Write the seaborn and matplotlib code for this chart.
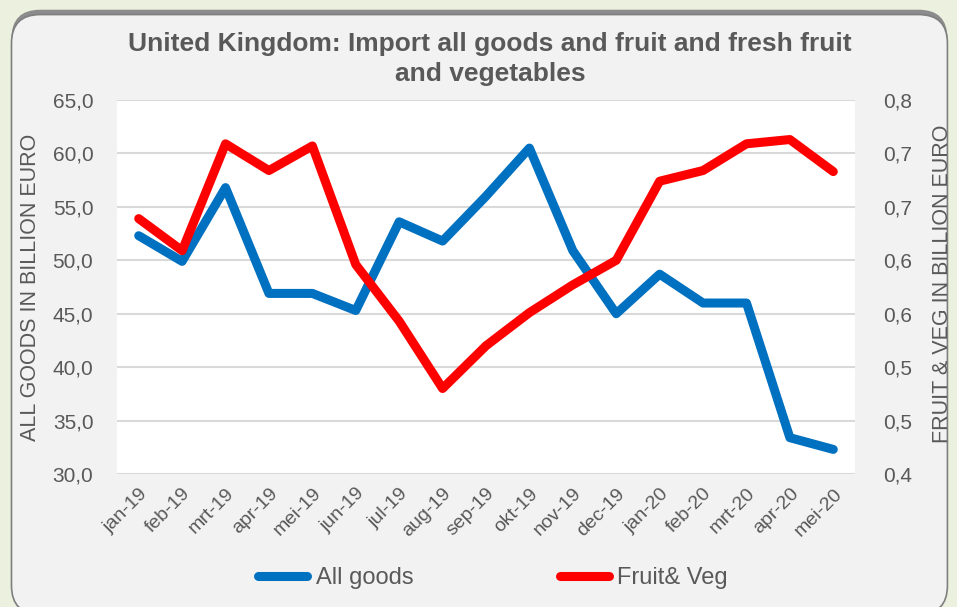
import math
import matplotlib
matplotlib.use("Agg")
import matplotlib.pyplot as plt
import matplotlib.ticker as mticker
from matplotlib.patches import FancyBboxPatch
import seaborn as sns
import pandas as pd
import numpy as np

months = ["jan-19", "feb-19", "mrt-19", "apr-19", "mei-19", "jun-19", "jul-19", "aug-19",
          "sep-19", "okt-19", "nov-19", "dec-19", "jan-20", "feb-20", "mrt-20", "apr-20", "mei-20"]
all_goods = [52.3, 49.9, 56.8, 46.9, 46.9, 45.3, 53.6, 51.8, 56.0, 60.5, 50.9,
             45.0, 48.7, 46.0, 46.0, 33.4, 32.3]
fruit_veg = [0.639, 0.609, 0.709, 0.684, 0.707, 0.596, 0.543, 0.480, 0.520, 0.551,
             0.577, 0.600, 0.674, 0.684, 0.709, 0.713, 0.683]

df = pd.DataFrame({"month": months, "all_goods": all_goods, "fruit_veg": fruit_veg})
df["pos"] = np.arange(len(df))

sns.set_style("white")
plt.rcParams["font.family"] = ["Liberation Sans", "DejaVu Sans"]

grey = "#595959"
blue = "#0070C0"
red = "#FF0000"

fig = plt.figure(figsize=(9.57, 6.07), dpi=100)
fig.patch.set_facecolor("#EBF1DE")

# rounded chart panel with a soft shadow at the top
shadow = FancyBboxPatch((0.012, -0.012), 0.978, 0.996, boxstyle="round,pad=0,rounding_size=0.03",
                        transform=fig.transFigure, facecolor="#8c8c8c", edgecolor="none",
                        mutation_aspect=957 / 607, zorder=-20)
panel = FancyBboxPatch((0.012, -0.012), 0.978, 0.988, boxstyle="round,pad=0,rounding_size=0.03",
                       transform=fig.transFigure, facecolor="#F2F2F2", edgecolor="#7f7f7f",
                       linewidth=1.2, mutation_aspect=957 / 607, zorder=-10)
fig.patches.extend([shadow, panel])

ax = fig.add_axes([117 / 957, 1 - 474 / 607, 738 / 957, 374 / 607])
ax.set_facecolor("white")
ax2 = ax.twinx()
ax2.patch.set_visible(False)

sns.lineplot(data=df, x="pos", y="all_goods", ax=ax, color=blue, linewidth=6.5,
             solid_capstyle="round", solid_joinstyle="round", label="All goods", legend=False)
sns.lineplot(data=df, x="pos", y="fruit_veg", ax=ax2, color=red, linewidth=6.5,
             solid_capstyle="round", solid_joinstyle="round", label="Fruit& Veg", legend=False)

ax.set_xlim(-0.5, len(months) - 0.5)
ax.set_ylim(30, 65)
ax2.set_ylim(0.40, 0.75)
ax.set_yticks(np.arange(30, 66, 5))
ax2.set_yticks(np.arange(0.40, 0.751, 0.05))
ax.set_xticks(df["pos"])
ax.set_xticklabels(months, rotation=45, ha="right", rotation_mode="anchor")

ax.yaxis.set_major_formatter(mticker.FuncFormatter(lambda v, _: f"{v:.1f}".replace(".", ",")))
ax2.yaxis.set_major_formatter(mticker.FuncFormatter(
    lambda v, _: f"{math.floor(v * 10 + 0.5 + 1e-9) / 10:.1f}".replace(".", ",")))

ax.grid(axis="y", color="#D9D9D9", linewidth=1.5)
ax.set_axisbelow(True)
for a in (ax, ax2):
    for s in a.spines.values():
        s.set_visible(False)
    a.tick_params(length=0, colors=grey, labelsize=15)
ax.tick_params(axis="y", pad=17)
ax2.tick_params(axis="y", pad=20)
ax.tick_params(axis="x", pad=8, labelsize=14)

ax.set_xlabel("")
ax.set_ylabel("")
ax2.set_ylabel("")
fig.text(31 / 957, 1 - 287 / 607, "ALL GOODS IN BILLION EURO", rotation=90, ha="center",
         va="center", fontsize=15.5, color=grey)
fig.text(943 / 957, 1 - 284 / 607, "FRUIT & VEG IN BILLION EURO", rotation=90, ha="center",
         va="center", fontsize=15.5, color=grey)

fig.text(490 / 957, 1 - 32 / 607, "United Kingdom: Import all goods and fruit and fresh fruit\nand vegetables",
         ha="center", va="top", fontsize=19, fontweight="bold", color=grey, linespacing=1.3)

handles = ax.get_lines()[:1] + ax2.get_lines()[:1]
fig.legend(handles, ["All goods", "Fruit& Veg"], loc="center", bbox_to_anchor=(0.515, 1 - 578 / 607),
           ncol=2, frameon=False, fontsize=17, handlelength=2.1, handletextpad=0.35,
           columnspacing=6.2, labelcolor=grey)

fig.savefig("out.png", dpi=100, facecolor=fig.get_facecolor())
